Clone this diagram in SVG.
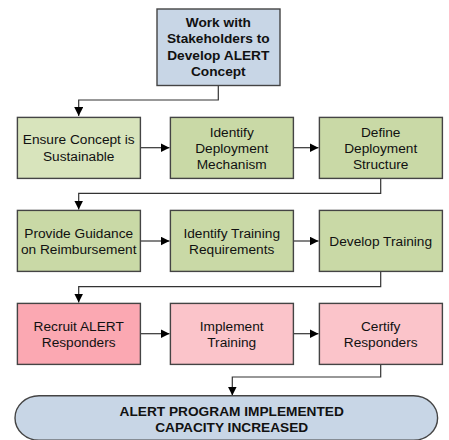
<svg xmlns="http://www.w3.org/2000/svg" width="449" height="440" viewBox="0 0 449 440">
<style>
.box{stroke:#444;stroke-width:1.4}
.t{font-family:"Liberation Sans",Arial,sans-serif;font-size:13.7px;fill:#111;text-anchor:middle}
.b{font-weight:bold}
.c{fill:none;stroke:#333;stroke-width:1.2}
</style>
<defs>
<marker id="ah" markerWidth="9" markerHeight="9" viewBox="0 0 9 9" refX="9" refY="4.5" orient="auto" markerUnits="userSpaceOnUse">
<path d="M0,0 L9,4.5 L0,9 Z" fill="#000"/>
</marker>
</defs>
<g id="connectors">
<path class="c" d="M218.3,85.5 V100 H78.7 V116" marker-end="url(#ah)"/>
<path class="c" d="M141,147.7 H169.5" marker-end="url(#ah)"/>
<path class="c" d="M294,147.7 H318.5" marker-end="url(#ah)"/>
<path class="c" d="M380.7,178.7 V193.3 H78.7 V209.5" marker-end="url(#ah)"/>
<path class="c" d="M141,241 H169.5" marker-end="url(#ah)"/>
<path class="c" d="M294,241 H318.5" marker-end="url(#ah)"/>
<path class="c" d="M380.7,272 V286.7 H78.7 V302.5" marker-end="url(#ah)"/>
<path class="c" d="M141,333.7 H169.5" marker-end="url(#ah)"/>
<path class="c" d="M294,333.7 H318.5" marker-end="url(#ah)"/>
<path class="c" d="M380.7,365 V377 H232.3 V395.5" marker-end="url(#ah)"/>
</g>
<g id="n0">
<rect class="box" x="157" y="9" width="123" height="76.5" fill="#c8d6e6"/>
<text class="t b" x="218.3" y="27.3">Work with</text>
<text class="t b" x="218.3" y="43.3">Stakeholders to</text>
<text class="t b" x="218.3" y="59.8">Develop ALERT</text>
<text class="t b" x="218.3" y="76">Concept</text>
</g>
<g id="n1">
<rect class="box" x="17.4" y="117.4" width="123" height="61" fill="#d8e4bc"/>
<text class="t" x="78.7" y="144.1">Ensure Concept is</text>
<text class="t" x="78.7" y="160.8">Sustainable</text>
</g>
<g id="n2">
<rect class="box" x="170.4" y="117.4" width="123" height="61" fill="#c9d9a6"/>
<text class="t" x="231.7" y="136.5">Identify</text>
<text class="t" x="231.7" y="152.5">Deployment</text>
<text class="t" x="231.7" y="168.8">Mechanism</text>
</g>
<g id="n3">
<rect class="box" x="319.4" y="117.4" width="123" height="61" fill="#c9d9a6"/>
<text class="t" x="380.7" y="136.5">Define</text>
<text class="t" x="380.7" y="152.5">Deployment</text>
<text class="t" x="380.7" y="168.8">Structure</text>
</g>
<g id="n4">
<rect class="box" x="17.4" y="210.4" width="123" height="61" fill="#c9d9a6"/>
<text class="t" x="78.7" y="237.5">Provide Guidance</text>
<text class="t" x="78.7" y="254.1">on Reimbursement</text>
</g>
<g id="n5">
<rect class="box" x="170.4" y="210.4" width="123" height="61" fill="#c9d9a6"/>
<text class="t" x="231.7" y="237.5">Identify Training</text>
<text class="t" x="231.7" y="254.1">Requirements</text>
</g>
<g id="n6">
<rect class="box" x="319.4" y="210.4" width="123" height="61" fill="#c9d9a6"/>
<text class="t" x="380.7" y="245.8">Develop Training</text>
</g>
<g id="n7">
<rect class="box" x="17.4" y="303.4" width="123" height="61" fill="#fba8b2"/>
<text class="t" x="78.7" y="330.5">Recruit ALERT</text>
<text class="t" x="78.7" y="346.8">Responders</text>
</g>
<g id="n8">
<rect class="box" x="170.4" y="303.4" width="123" height="61" fill="#fbc4ca"/>
<text class="t" x="231.7" y="330.5">Implement</text>
<text class="t" x="231.7" y="346.8">Training</text>
</g>
<g id="n9">
<rect class="box" x="319.4" y="303.4" width="123" height="61" fill="#fbc4ca"/>
<text class="t" x="380.7" y="330.5">Certify</text>
<text class="t" x="380.7" y="346.8">Responders</text>
</g>
<g id="n10">
<rect class="box" x="15" y="395.7" width="422.6" height="44.5" rx="24" ry="24" fill="#c8d6e6"/>
<text class="t b" x="231.7" y="415.5">ALERT PROGRAM IMPLEMENTED</text>
<text class="t b" x="231.7" y="431.5">CAPACITY INCREASED</text>
</g>
</svg>
